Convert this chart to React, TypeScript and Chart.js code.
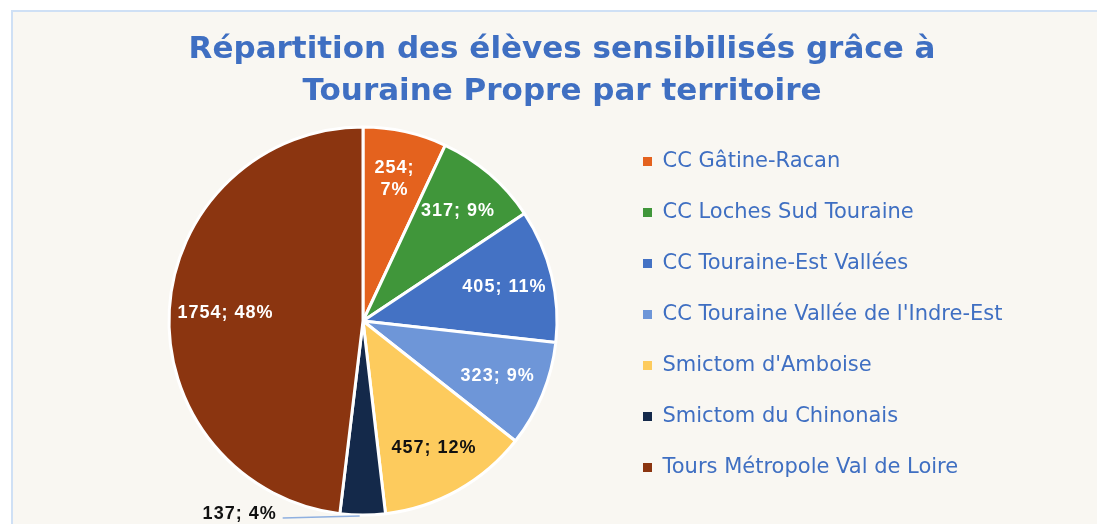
import React, { useEffect, useRef } from "react";
import { Chart, registerables } from "chart.js";

Chart.register(...registerables);

const categories: string[] = [
  "CC Gâtine-Racan",
  "CC Loches Sud Touraine",
  "CC Touraine-Est Vallées",
  "CC Touraine Vallée de l'Indre-Est",
  "Smictom d'Amboise",
  "Smictom du Chinonais",
  "Tours Métropole Val de Loire",
];
const values: number[] = [254, 317, 405, 323, 457, 137, 1754];
const percentLabels: string[] = ["7%", "9%", "11%", "9%", "12%", "4%", "48%"];
const colors: string[] = ["#e4621e", "#40963a", "#4472c4", "#6e96d8", "#fdcb5d", "#14294a", "#8b3510"];
const labelColors: string[] = ["#ffffff", "#ffffff", "#ffffff", "#ffffff", "#111111", "#111111", "#ffffff"];
const titleLines: string[] = ["Répartition des élèves sensibilisés grâce à", "Touraine Propre par territoire"];

const TEXT_BLUE = "#3f6fc2";

const backgroundPlugin = {
  id: "bg",
  beforeDraw(chart: any) {
    const ctx = chart.ctx;
    ctx.save();
    ctx.fillStyle = "#ffffff";
    ctx.fillRect(0, 0, chart.width, chart.height);
    ctx.fillStyle = "#f9f7f2";
    ctx.fillRect(12, 11, chart.width - 12, chart.height - 11);
    ctx.strokeStyle = "#cfe0f5";
    ctx.lineWidth = 2;
    ctx.beginPath();
    ctx.moveTo(12, chart.height);
    ctx.lineTo(12, 11);
    ctx.lineTo(chart.width, 11);
    ctx.stroke();
    ctx.restore();
  },
};

const labelPlugin = {
  id: "sliceLabels",
  afterDatasetsDraw(chart: any) {
    const ctx = chart.ctx;
    const meta = chart.getDatasetMeta(0);
    ctx.save();
    ctx.font = "bold 18px 'Liberation Sans', Arial, sans-serif";
    (ctx as any).letterSpacing = "1px";
    ctx.textAlign = "center";
    ctx.textBaseline = "middle";
    meta.data.forEach((arc: any, i: number) => {
      const { x, y, startAngle, endAngle, outerRadius } = arc.getProps(
        ["x", "y", "startAngle", "endAngle", "outerRadius"],
        true
      );
      const mid = (startAngle + endAngle) / 2;
      const span = endAngle - startAngle;
      const text = `${values[i]}; ${percentLabels[i]}`;
      ctx.fillStyle = labelColors[i];
      if (span < 0.3) {
        const ex = x + Math.cos(mid) * outerRadius;
        const ey = y + Math.sin(mid) * outerRadius;
        const lx0 = ex - 3;
        const lx1 = ex - 80;
        ctx.strokeStyle = "#8fb0e0";
        ctx.lineWidth = 1.5;
        ctx.beginPath();
        ctx.moveTo(lx0, ey + 1);
        ctx.lineTo(lx1, ey + 3);
        ctx.stroke();
        ctx.textAlign = "right";
        ctx.fillText(text, lx1 - 6, ey - 1);
        ctx.textAlign = "center";
        return;
      }
      const r = outerRadius * (span > 2 ? 0.71 : 0.75);
      const lx = x + Math.cos(mid) * r;
      const ly = y + Math.sin(mid) * r;
      if (span < 0.5) {
        ctx.fillText(`${values[i]};`, lx, ly - 11);
        ctx.fillText(percentLabels[i], lx, ly + 11);
      } else {
        ctx.fillText(text, lx, ly);
      }
    });
    ctx.restore();
  },
};

export default function App() {
  const ref = useRef<HTMLCanvasElement | null>(null);
  useEffect(() => {
    if (!ref.current) return;
    const defaultGen = (Chart as any).overrides.pie.plugins.legend.labels.generateLabels;
    const chart = new Chart(ref.current, {
      type: "pie",
      data: {
        labels: categories,
        datasets: [
          {
            data: values,
            backgroundColor: colors,
            borderColor: "#ffffff",
            borderWidth: 3,
            radius: 194,
          },
        ],
      },
      options: {
        responsive: false,
        animation: false,
        layout: { padding: { left: 113, right: 86, top: 0, bottom: 0 } },
        plugins: {
          tooltip: { enabled: false },
          title: {
            display: true,
            text: titleLines,
            color: TEXT_BLUE,
            font: { family: "'DejaVu Sans', sans-serif", size: 31, weight: "bold", lineHeight: 1.355 },
            padding: { top: 29, bottom: 5 },
          },
          legend: {
            display: true,
            position: "right",
            align: "start",
            fullSize: false,
            maxWidth: 398,
            title: { display: true, text: " ", font: { size: 3, lineHeight: 1 }, padding: 0 },
            labels: {
              color: TEXT_BLUE,
              font: { family: "'DejaVu Sans', sans-serif", size: 21 },
              boxWidth: 9,
              boxHeight: 9,
              padding: 30,
              generateLabels: (c: any) =>
                defaultGen(c).map((it: any) => ({ ...it, lineWidth: 0, strokeStyle: "rgba(0,0,0,0)" })),
            },
          },
        },
      },
      plugins: [backgroundPlugin, labelPlugin],
    });
    return () => chart.destroy();
  }, []);
  return (
    <div style={{ position: "absolute", left: 0, top: 0, width: 1097, height: 524 }}>
      <canvas ref={ref} width={1097} height={524} style={{ display: "block" }} />
    </div>
  );
}
